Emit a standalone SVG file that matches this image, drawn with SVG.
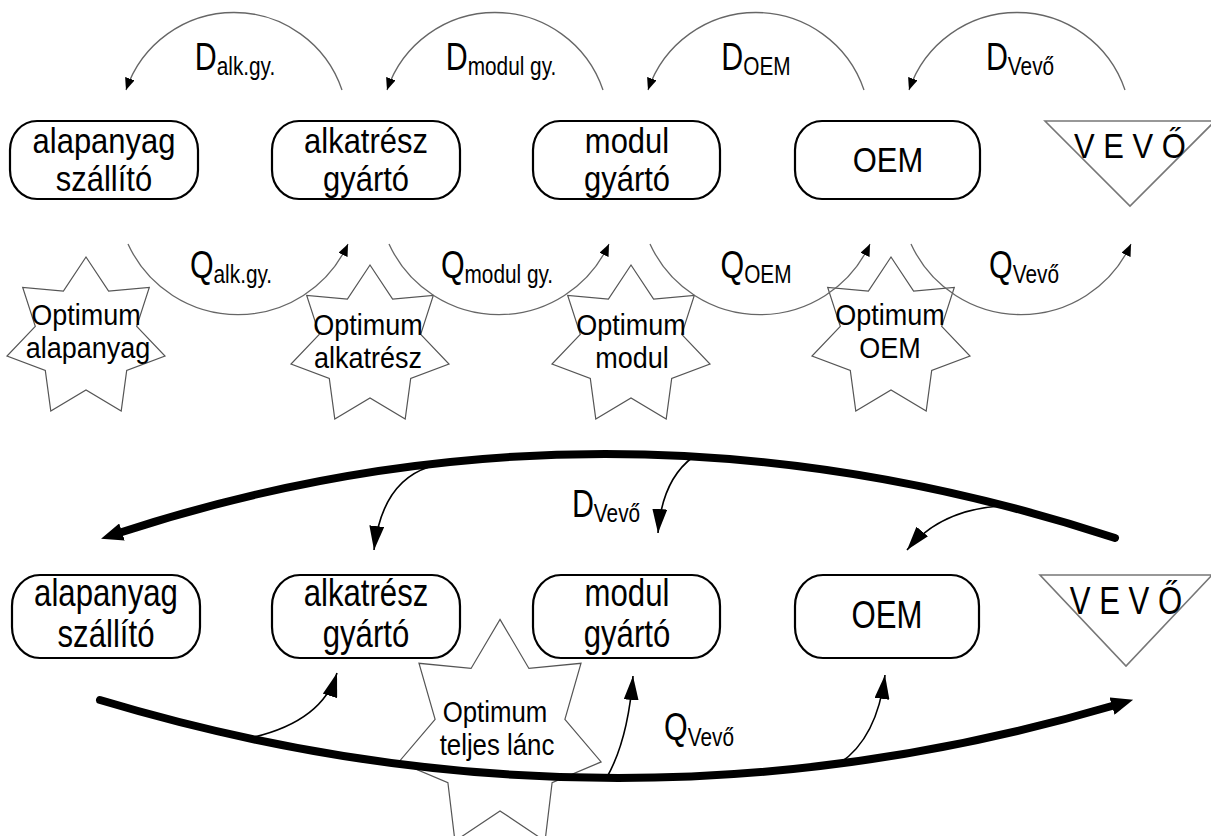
<svg xmlns="http://www.w3.org/2000/svg" xmlns:xlink="http://www.w3.org/1999/xlink" width="1211" height="836" viewBox="0 0 1211 836">
<defs>
<style>
text{font-family:"Liberation Sans",Arial,sans-serif;fill:#000;text-anchor:middle}
.box{fill:#fff;stroke:#000;stroke-width:2.2}
.bt{font-size:36px}
.bb{font-size:38px}
.st{font-size:30px}
.tri{fill:#fff;stroke:#777;stroke-width:1.6}
.arc{fill:none;stroke:#666;stroke-width:1.3;marker-end:url(#ah)}
.thick{fill:none;stroke:#000;stroke-width:8;stroke-linecap:round;marker-end:url(#big)}
.thin{fill:none;stroke:#000;stroke-width:1.6;marker-end:url(#mid)}
.lbl{font-size:38px}
.sub{font-size:26px}
</style>
<marker id="ah" markerUnits="userSpaceOnUse" viewBox="0 0 12 10" markerWidth="12" markerHeight="10" refX="12" refY="5" orient="auto"><path d="M0,0 L12,5 L0,10 Z" fill="#000"/></marker>
<marker id="mid" markerUnits="userSpaceOnUse" viewBox="0 0 24 15" markerWidth="24" markerHeight="15" refX="24" refY="7.5" orient="auto"><path d="M0,0 L24,7.5 L0,15 Z" fill="#000"/></marker>
<marker id="big" markerUnits="userSpaceOnUse" viewBox="0 0 22 18" markerWidth="22" markerHeight="18" refX="0" refY="9" orient="auto"><path d="M0,0 L22,9 L0,18 Z" fill="#000"/></marker>
<polygon id="s7" fill="#fff" stroke="#555" stroke-width="1.2" vector-effect="non-scaling-stroke" points="0,-81 22.6,-46.9 63.3,-50.5 50.7,-11.6 79,18 40.7,32.4 35.2,73 0,52 -35.2,73 -40.7,32.4 -79,18 -50.7,-11.6 -63.3,-50.5 -22.6,-46.9"/>
</defs>
<rect width="1211" height="836" fill="#fff"/>

<!-- top row stars -->
<g id="opt-alapanyag"><use xlink:href="#s7" transform="translate(86,338)"/><text class="st" transform="translate(86,325) scale(0.9,1)">Optimum</text><text class="st" transform="translate(88,358) scale(0.9,1)">alapanyag</text></g>
<g id="opt-alkatresz"><use xlink:href="#s7" transform="translate(370,346)"/><text class="st" transform="translate(368,335) scale(0.9,1)">Optimum</text><text class="st" transform="translate(368,368) scale(0.9,1)">alkatrész</text></g>
<g id="opt-modul"><use xlink:href="#s7" transform="translate(631,346)"/><text class="st" transform="translate(631,335) scale(0.9,1)">Optimum</text><text class="st" transform="translate(632,368) scale(0.9,1)">modul</text></g>
<g id="opt-oem"><use xlink:href="#s7" transform="translate(891,338)"/><text class="st" transform="translate(890,325) scale(0.9,1)">Optimum</text><text class="st" transform="translate(890,358) scale(0.9,1)">OEM</text></g>

<!-- top row nodes -->
<g id="t-alapanyag"><rect class="box" x="10" y="121" width="188" height="78" rx="27" ry="29"/><text class="bt" transform="translate(104,153) scale(0.86,1)">alapanyag</text><text class="bt" transform="translate(104,191) scale(0.86,1)">szállító</text></g>
<g id="t-alkatresz"><rect class="box" x="272" y="121" width="188" height="78" rx="27" ry="29"/><text class="bt" transform="translate(366,153) scale(0.86,1)">alkatrész</text><text class="bt" transform="translate(366,191) scale(0.86,1)">gyártó</text></g>
<g id="t-modul"><rect class="box" x="533" y="121" width="187" height="78" rx="27" ry="29"/><text class="bt" transform="translate(627,153) scale(0.86,1)">modul</text><text class="bt" transform="translate(627,191) scale(0.86,1)">gyártó</text></g>
<g id="t-oem"><rect class="box" x="795" y="121" width="185" height="78" rx="27" ry="29"/><text class="bt" transform="translate(888,172) scale(0.86,1)">OEM</text></g>
<g id="t-vevo"><polygon class="tri" points="1045,121 1215,121 1130,206"/><text class="bt" transform="translate(1130,158) scale(0.86,1)">V E V Ő</text></g>

<!-- bottom: big star -->
<g id="opt-teljes"><use xlink:href="#s7" transform="translate(500,736) scale(1.28,1.44)"/><text class="st" transform="translate(495,722) scale(0.86,1)">Optimum</text><text class="st" transform="translate(497,755) scale(0.86,1)">teljes lánc</text></g>

<!-- bottom row nodes -->
<g id="b-alapanyag"><rect class="box" x="12" y="575" width="188" height="83" rx="28" ry="31"/><text class="bb" transform="translate(106,606) scale(0.82,1)">alapanyag</text><text class="bb" transform="translate(106,647) scale(0.82,1)">szállító</text></g>
<g id="b-alkatresz"><rect class="box" x="272" y="575" width="188" height="83" rx="28" ry="31"/><text class="bb" transform="translate(366,606) scale(0.82,1)">alkatrész</text><text class="bb" transform="translate(366,647) scale(0.82,1)">gyártó</text></g>
<g id="b-modul"><rect class="box" x="533" y="575" width="187" height="83" rx="28" ry="31"/><text class="bb" transform="translate(627,606) scale(0.82,1)">modul</text><text class="bb" transform="translate(627,647) scale(0.82,1)">gyártó</text></g>
<g id="b-oem"><rect class="box" x="795" y="575" width="184" height="83" rx="28" ry="31"/><text class="bb" transform="translate(887,628) scale(0.82,1)">OEM</text></g>
<g id="b-vevo"><polygon class="tri" points="1040,575 1212,575 1126,666"/><text class="bb" transform="translate(1126,614) scale(0.82,1)">V E V Ő</text></g>

<!-- connectors -->
<g id="connectors">
<path class="arc" d="M342,90 A114,114 0 0 0 126,90"/>
<path class="arc" d="M603,90 A114,114 0 0 0 387,90"/>
<path class="arc" d="M864,90 A114,114 0 0 0 648,90"/>
<path class="arc" d="M1125,90 A114,114 0 0 0 909,90"/>
<path class="arc" d="M128,244 A121,121 0 0 0 348,244"/>
<path class="arc" d="M389,244 A121,121 0 0 0 609,244"/>
<path class="arc" d="M650,244 A121,121 0 0 0 870,244"/>
<path class="arc" d="M911,244 A121,121 0 0 0 1131,244"/>

<path class="thick" d="M1115,538 Q610,373 122,532"/>
<path class="thin" d="M429,467 Q382,482 374,550"/>
<path class="thin" d="M693,457 Q662,480 658,533"/>
<path class="thin" d="M1000,506 Q940,510 907,550"/>

<path class="thick" d="M100,700 Q610,853 1112,706"/>
<path class="thin" d="M250,738 Q322,722 337,673"/>
<path class="thin" d="M607,777 Q628,740 633,676"/>
<path class="thin" d="M840,763 Q877,738 885,675"/>
</g>

<!-- labels -->
<g id="labels">
<text class="lbl" transform="translate(235,70) scale(0.8,1)">D<tspan class="sub" dy="5">alk.gy.</tspan></text>
<text class="lbl" transform="translate(501,70) scale(0.8,1)">D<tspan class="sub" dy="5">modul gy.</tspan></text>
<text class="lbl" transform="translate(756,70) scale(0.8,1)">D<tspan class="sub" dy="5">OEM</tspan></text>
<text class="lbl" transform="translate(1020,70) scale(0.8,1)">D<tspan class="sub" dy="5">Vevő</tspan></text>
<text class="lbl" transform="translate(231,278) scale(0.8,1)">Q<tspan class="sub" dy="5">alk.gy.</tspan></text>
<text class="lbl" transform="translate(497,278) scale(0.8,1)">Q<tspan class="sub" dy="5">modul gy.</tspan></text>
<text class="lbl" transform="translate(756,278) scale(0.8,1)">Q<tspan class="sub" dy="5">OEM</tspan></text>
<text class="lbl" transform="translate(1024,278) scale(0.8,1)">Q<tspan class="sub" dy="5">Vevő</tspan></text>
<text class="lbl" transform="translate(606,517) scale(0.8,1)">D<tspan class="sub" dy="5">Vevő</tspan></text>
<text class="lbl" transform="translate(699,740) scale(0.8,1)">Q<tspan class="sub" dy="6">Vevő</tspan></text>
</g>
</svg>
